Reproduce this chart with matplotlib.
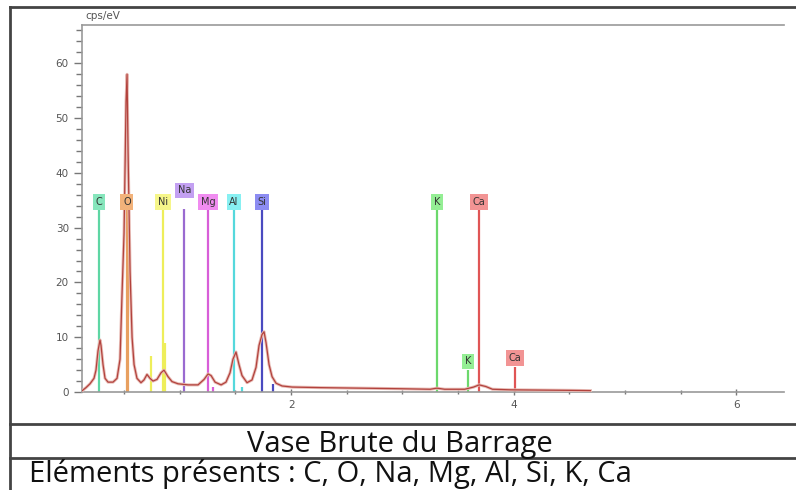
import matplotlib.pyplot as plt
from matplotlib.ticker import MultipleLocator

# EDS spectrum (energy in keV, intensity in cps/eV)
energy = [0.12, 0.157, 0.193, 0.229, 0.247, 0.265, 0.283, 0.292, 0.31, 0.328,
          0.355, 0.40, 0.436, 0.463, 0.481, 0.499, 0.517, 0.526, 0.535, 0.553,
          0.571, 0.589, 0.615, 0.651, 0.678, 0.705, 0.732, 0.759, 0.795, 0.831,
          0.858, 0.894, 0.93, 0.984, 1.074, 1.164, 1.218, 1.254, 1.281, 1.317,
          1.371, 1.415, 1.451, 1.478, 1.505, 1.532, 1.559, 1.604, 1.649, 1.685,
          1.712, 1.739, 1.757, 1.775, 1.802, 1.829, 1.865, 1.919, 2.01, 2.26,
          2.62, 2.98, 3.25, 3.31, 3.38, 3.56, 3.64, 3.69, 3.75, 3.81,
          3.97, 4.24, 4.51, 4.69]
counts = [0.2, 0.8, 1.5, 2.5, 4.0, 7.5, 9.5, 8.5, 5.0, 2.5,
          1.8, 1.8, 2.5, 6.0, 18.0, 29.0, 53.0, 58.0, 44.0, 22.0,
          10.0, 5.0, 2.5, 1.7, 2.2, 3.2, 2.5, 2.0, 2.3, 3.5,
          4.0, 2.8, 1.9, 1.5, 1.3, 1.3, 2.3, 3.3, 3.0, 1.8,
          1.3, 1.8, 3.5, 6.0, 7.3, 5.0, 3.0, 1.7, 2.2, 4.5,
          8.5, 10.5, 11.0, 9.0, 5.0, 2.8, 1.6, 1.1, 0.9, 0.8,
          0.7, 0.6, 0.5, 0.7, 0.5, 0.5, 0.9, 1.3, 1.0, 0.5,
          0.4, 0.35, 0.3, 0.25]

# labelled element lines
elements = ["C", "O", "Ni", "Na", "Mg", "Al", "Si", "K", "Ca", "K", "Ca"]
line_energy = [0.277, 0.525, 0.851, 1.041, 1.254, 1.487, 1.740, 3.313, 3.691, 3.590, 4.013]
line_height = [33.4, 33.4, 33.4, 33.4, 33.4, 33.4, 33.4, 33.4, 33.4, 4.0, 4.6]
label_level = [34.7, 34.7, 34.7, 36.8, 34.7, 34.7, 34.7, 34.7, 34.7, 5.6, 6.2]
line_color = ["#5ed6a4", "#e8a060", "#eeee5a", "#9a6ad0", "#d85ed8", "#55d8dc",
              "#4a4ac0", "#6cd86c", "#e05555", "#6cd86c", "#e05555"]
box_color = ["#86e6bc", "#f2b27a", "#f6f68a", "#c3a0f2", "#f08cf0", "#88f0f2",
             "#8c8cf2", "#94ee94", "#f29494", "#94ee94", "#f29494"]

# secondary (unlabelled) lines
minor_energy = [0.743, 0.869, 1.302, 1.557, 1.836]
minor_height = [6.5, 9.0, 1.0, 1.0, 1.5]
minor_color = ["#eeee5a", "#eeee5a", "#d85ed8", "#55d8dc", "#4a4ac0"]

title = "Vase Brute du Barrage"
caption = "Eléments présents : C, O, Na, Mg, Al, Si, K, Ca"

fig = plt.figure(figsize=(7.96, 4.9), dpi=100)
ax = fig.add_axes([0.103, 0.2, 0.882, 0.749])

for e, h, c in zip(line_energy, line_height, line_color):
    ax.vlines(e, 0, h, color=c, lw=1.6, zorder=2)
for e, h, c in zip(minor_energy, minor_height, minor_color):
    ax.vlines(e, 0, h, color=c, lw=1.6, zorder=2)
ax.vlines(line_energy[1] + 0.012, 0, line_height[1], color=line_color[1], lw=1.6, zorder=2)

ax.plot(energy, counts, color="#e8bcb6", lw=2.2, zorder=3)
ax.plot(energy, counts, color="#b2423d", lw=0.9, zorder=4)

for name, e, y, bc in zip(elements, line_energy, label_level, box_color):
    ax.text(e, y, name, ha="center", va="center", fontsize=7, color="#333333",
            zorder=5, bbox=dict(boxstyle="square,pad=0.28", fc=bc, ec="none"))

ax.set_xlim(0.121, 6.43)
ax.set_ylim(0, 67)
ax.xaxis.set_major_locator(MultipleLocator(2))
ax.xaxis.set_minor_locator(MultipleLocator(0.5))
ax.yaxis.set_major_locator(MultipleLocator(10))
ax.yaxis.set_minor_locator(MultipleLocator(2))
ax.tick_params(axis="both", which="both", colors="#777777", labelcolor="#555555",
               labelsize=7.5, width=1)
ax.tick_params(axis="y", which="major", length=6)
ax.tick_params(axis="y", which="minor", length=4)
ax.tick_params(axis="x", which="major", length=4, direction="inout")
ax.tick_params(axis="x", which="minor", length=3, direction="inout")
for side in ["left", "bottom", "top"]:
    ax.spines[side].set_color("#999999")
    ax.spines[side].set_linewidth(1.2)
ax.spines["right"].set_visible(False)
ax.text(0.005, 1.012, "cps/eV", transform=ax.transAxes, fontsize=7.5,
        color="#555555", ha="left", va="bottom")

# table frame around the spectrum and its captions
frame = dict(color="#444444", lw=2.0, transform=fig.transFigure, clip_on=False)
fig.add_artist(plt.Line2D([0.012, 1.0], [0.985, 0.985], **frame))
fig.add_artist(plt.Line2D([0.012, 0.012], [0.0, 0.985], **frame))
fig.add_artist(plt.Line2D([0.012, 1.0], [0.135, 0.135], **frame))
fig.add_artist(plt.Line2D([0.012, 1.0], [0.065, 0.065], **frame))

fig.text(0.502, 0.078, title, ha="center", va="baseline", fontsize=21,
         family="Open Sans", color="#111111")
fig.text(0.037, 0.017, caption, ha="left", va="baseline", fontsize=21,
         family="Open Sans", color="#111111")

fig.savefig("out.png", dpi=100)
